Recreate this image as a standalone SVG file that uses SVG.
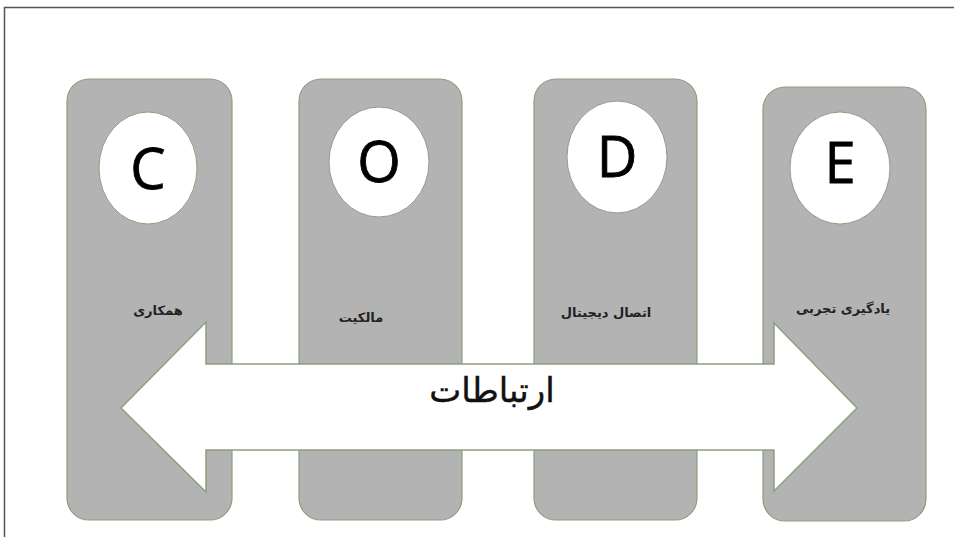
<svg xmlns="http://www.w3.org/2000/svg" width="954" height="537" viewBox="0 0 954 537">
<style>
.col{fill:#b3b3b3;stroke:#8c9f7e;stroke-width:1.2}
.circ{fill:#ffffff;stroke:#8c9f7e;stroke-width:1}
.letter{font-family:"Open Sans","DejaVu Sans",sans-serif;font-size:56px;fill:#000;stroke:#000;stroke-width:0.8;text-anchor:middle}
.lab{font-family:"DejaVu Sans",sans-serif;font-size:13px;font-weight:bold;fill:#222;text-anchor:middle}
.big{font-family:"DejaVu Sans",sans-serif;font-size:34px;fill:#111;stroke:#111;stroke-width:0.4;text-anchor:middle}
.arrow{fill:#ffffff;stroke:#8c9f7e;stroke-width:1.5;stroke-linejoin:miter}
</style>
<rect x="0" y="0" width="954" height="537" fill="#ffffff"/>
<path d="M4.5 537 V7.5 H954" fill="none" stroke="#555" stroke-width="1.5"/>
<g id="node-c">
<rect class="col" x="67" y="79" width="165" height="441" rx="22"/>
<ellipse class="circ" cx="148" cy="168" rx="49" ry="56"/>
<text class="letter" x="148" y="189">C</text>
<text class="lab" x="158" y="315" direction="rtl">همکاری</text>
</g>
<g id="node-o">
<rect class="col" x="299" y="79" width="163" height="441" rx="22"/>
<ellipse class="circ" cx="379" cy="162" rx="50" ry="55"/>
<text class="letter" x="379" y="182">O</text>
<text class="lab" x="361" y="322" direction="rtl">مالکیت</text>
</g>
<g id="node-d">
<rect class="col" x="534" y="79" width="163" height="441" rx="22"/>
<ellipse class="circ" cx="617" cy="157" rx="50" ry="56"/>
<text class="letter" x="617" y="177">D</text>
<text class="lab" x="606" y="317" direction="rtl">اتصال دیجیتال</text>
</g>
<g id="node-e">
<rect class="col" x="763" y="87" width="163" height="434" rx="22"/>
<ellipse class="circ" cx="840" cy="168" rx="50" ry="56"/>
<text class="letter" x="840" y="183">E</text>
<text class="lab" x="843" y="313" direction="rtl">یادگیری تجربی</text>
</g>
<g id="connectors">
<path class="arrow" d="M121 408 L206 322 L206 364 L774 364 L774 323 L857 408 L774 491 L774 450 L206 450 L206 492 Z"/>
<text class="big" x="492" y="402" direction="rtl">ارتباطات</text>
</g>
</svg>
